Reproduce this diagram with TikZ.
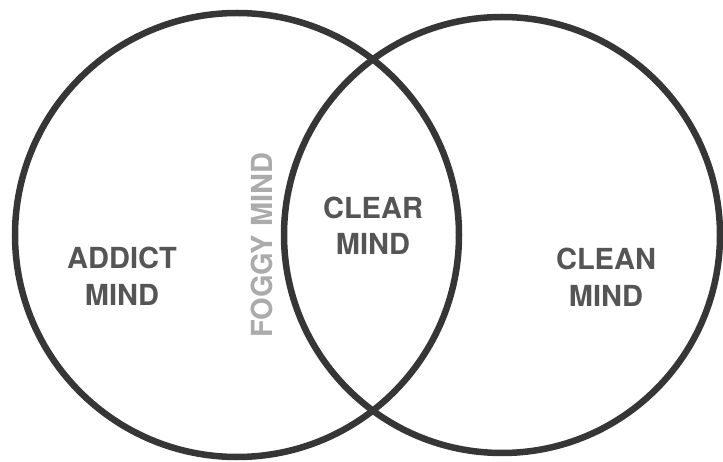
\documentclass[tikz,border=0pt]{standalone}
\usepackage{fontspec}
\setmainfont{TeX Gyre Heros}
\usepackage{tikz}
\definecolor{ringcolor}{HTML}{363636}
\definecolor{wordcolor}{HTML}{555555}
\definecolor{foggycolor}{HTML}{ABABAB}

\begin{document}
\begin{tikzpicture}[x=1pt,y=-1pt,
    mindword/.style={font=\fontsize{29}{36.5}\selectfont\bfseries,text=wordcolor,align=center,inner sep=0pt}]
\useasboundingbox (0,0) rectangle (723,462);

    \draw[ringcolor, line width=6.5pt] (237,235) circle (222pt);
    \draw[ringcolor, line width=6.5pt] (502,235) circle (218pt);

\node[mindword] (addict) at (122,276.5) {ADDICT\\MIND};
\node[mindword] (clear) at (373,226) {CLEAR\\MIND};
\node[mindword] (clean) at (606,277.5) {CLEAN\\MIND};
%% the grey word in the thin crescent
\node[mindword, text=foggycolor, rotate=90] (foggy) at (262,245) {FOGGY MIND};
\end{tikzpicture}
\end{document}
